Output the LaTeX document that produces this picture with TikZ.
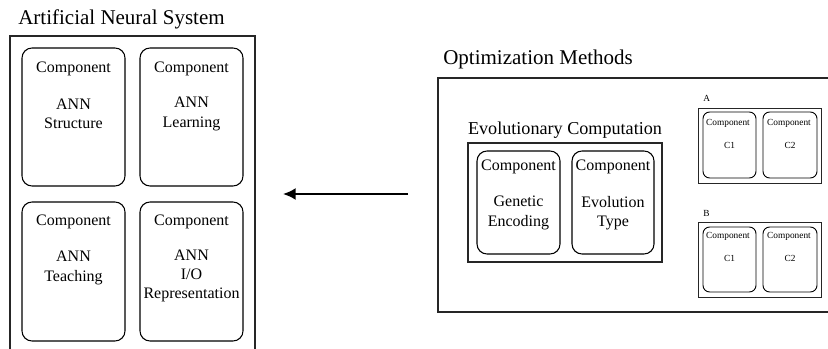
\documentclass[tikz,border=0pt]{standalone}
\usepackage{fontspec}
\setmainfont{Liberation Serif}
\usetikzlibrary{arrows.meta}
\begin{document}
\begin{tikzpicture}[x=0.75pt,y=-0.75pt,
  frame/.style={draw=black!85, line width=0.8pt, inner sep=0pt, outer sep=0pt},
  comp/.style={draw, rounded corners=7.5pt, line width=0.8pt, inner sep=0pt, outer sep=0pt},
  scomp/.style={draw, rounded corners=5pt, line width=0.7pt, inner sep=0pt, outer sep=0pt},
  ttl/.style={font=\fontsize{15.75}{18}\selectfont, inner sep=0pt},
  ectl/.style={font=\fontsize{13.6}{16}\selectfont, inner sep=0pt},
  txt/.style={font=\fontsize{12}{14.6}\selectfont, align=center, inner sep=0pt},
  stxt/.style={font=\fontsize{7}{8.5}\selectfont, align=center, inner sep=0pt},
  conn/.style={line width=1.5pt, -{Latex[length=9.5pt,width=9pt]}}]
\useasboundingbox (0,0) rectangle (828,349);
\clip (0,0) rectangle (828,349);

% ---------- Artificial Neural System ----------
\node[ttl, anchor=base west] (ansT) at (18,25) {Artificial Neural System};
\node[frame, minimum width=245*0.75pt, minimum height=340*0.75pt] (ans) at (132.5,206) {};

\node[comp, minimum width=103*0.75pt, minimum height=138*0.75pt] (b1) at (73.5,117) {};
\node[comp, minimum width=103*0.75pt, minimum height=138*0.75pt] (b2) at (191.5,117) {};
\node[comp, minimum width=103*0.75pt, minimum height=139*0.75pt] (b3) at (73.5,271.5) {};
\node[comp, minimum width=103*0.75pt, minimum height=139*0.75pt] (b4) at (191.5,271.5) {};

\node[txt] (b1c) at (73.5,69) {Component};
\node[txt] (b1t) at (73.5,114) {ANN\\Structure};
\node[txt] (b2c) at (191.5,69) {Component};
\node[txt] (b2t) at (191.5,114) {ANN\\Learning};
\node[txt] (b3c) at (73.5,222) {Component};
\node[txt] (b3t) at (73.5,268) {ANN\\Teaching};
\node[txt] (b4c) at (191.5,222) {Component};
\node[txt, font=\fontsize{12}{14}\selectfont] (b4t) at (191.5,276) {ANN\\I/O\\Representation};

% ---------- Arrow ----------
\coordinate (arrS) at (408,194);
\coordinate (arrE) at (283,194);
\draw[conn] (arrS) -- (arrE);

% ---------- Optimization Methods ----------
\node[ttl, anchor=base west] (omT) at (443,65) {Optimization Methods};
\node[frame, minimum width=407*0.75pt, minimum height=234*0.75pt] (om) at (641.5,195) {};

\node[ectl, anchor=base] (ecT) at (565,135) {Evolutionary Computation};
\node[frame, minimum width=194*0.75pt, minimum height=119*0.75pt] (ec) at (565,202.5) {};
\node[comp, minimum width=83*0.75pt, minimum height=103*0.75pt] (ge) at (518.5,202.5) {};
\node[comp, minimum width=82*0.75pt, minimum height=103*0.75pt] (et) at (613,202.5) {};
\node[txt] (gec) at (518.5,167) {Component};
\node[txt] (get) at (518.5,213) {Genetic\\Encoding};
\node[txt] (etc) at (613,167) {Component};
\node[txt] (ett) at (613,213) {Evolution\\Type};

% A
\node[stxt, anchor=base west] (aT) at (703,102) {A};
\node[frame, line width=0.7pt, minimum width=123*0.75pt, minimum height=75*0.75pt] (fa) at (759.5,145.5) {};
\node[scomp, minimum width=53*0.75pt, minimum height=66*0.75pt] (a1) at (729.5,145) {};
\node[scomp, minimum width=54*0.75pt, minimum height=66*0.75pt] (a2) at (790,145) {};
\node[stxt] (a1c) at (728,123) {Component};
\node[stxt] (a1t) at (729.5,145) {C1};
\node[stxt] (a2c) at (789,123) {Component};
\node[stxt] (a2t) at (790,145) {C2};

% B
\node[stxt, anchor=base west] (bT) at (703,216) {B};
\node[frame, line width=0.7pt, minimum width=123*0.75pt, minimum height=75*0.75pt] (fb) at (759.5,259.5) {};
\node[scomp, minimum width=53*0.75pt, minimum height=65*0.75pt] (c1) at (729.5,259.5) {};
\node[scomp, minimum width=54*0.75pt, minimum height=65*0.75pt] (c2) at (790,259.5) {};
\node[stxt] (c1c) at (728,236) {Component};
\node[stxt] (c1t) at (729.5,258) {C1};
\node[stxt] (c2c) at (789,236) {Component};
\node[stxt] (c2t) at (790,258) {C2};
\end{tikzpicture}
\end{document}
